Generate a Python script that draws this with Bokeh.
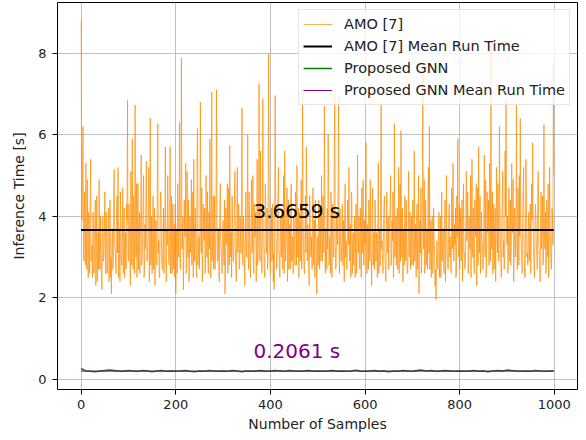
from bokeh.plotting import figure
from bokeh.models import Range1d, FixedTicker, Legend, LegendItem, Label
from bokeh.embed import file_html
from bokeh.resources import INLINE

# ---------------- data ----------------
# AMO [7] inference times, even-numbered samples (0, 2, ..., 998)
amo_even = [
    8.81, 3.9, 6.2, 2.9, 3.6, 5.3, 2.7, 3.2, 4.1, 2.6, 5.4, 3.0, 2.5, 3.8, 2.8, 4.4, 3.1, 2.4, 3.6, 4.9, 2.7, 3.3, 2.2, 4.0, 3.0,
    4.6, 2.6, 3.4, 2.9, 4.2, 3.1, 2.5, 2.1, 3.7, 2.8, 5.15, 3.2, 2.6, 4.5, 5.2, 3.0, 2.4, 3.9, 2.8, 4.7, 3.3, 2.5, 3.6, 4.3, 6.84,
    2.9, 3.8, 2.3, 4.4, 5.9, 2.7, 3.5, 6.73, 3.0, 2.5, 4.8, 3.3, 2.6, 4.1, 2.8, 3.6, 5.0, 2.7, 3.2, 5.35, 2.9, 4.0, 2.4, 6.4, 3.1,
    2.6, 4.5, 3.2, 2.3, 3.9, 2.8, 6.27, 3.4, 2.5, 4.6, 3.0, 2.7, 4.2, 3.5, 5.7, 2.4, 3.3, 4.0, 2.8, 5.7, 3.1, 2.6, 4.3, 3.6, 2.5,
    2.1, 3.7, 4.8, 3.0, 6.3, 2.7, 7.88, 3.2, 2.2, 4.4, 3.5, 2.6, 5.1, 3.0, 2.4, 4.0, 3.3, 2.8, 4.6, 5.4, 2.9, 3.6, 2.5, 6.15, 3.2,
    2.7, 6.8, 3.1, 2.4, 4.3, 3.4, 2.6, 5.0, 3.0, 2.8, 4.1, 5.9, 2.5, 7.04, 3.3, 2.7, 4.5, 3.1, 7.1, 2.9, 3.7, 2.4, 4.8, 3.2, 2.6,
    3.9, 2.8, 2.1, 4.2, 3.3, 2.6, 4.7, 5.73, 3.0, 2.5, 3.8, 2.9, 4.4, 3.2, 2.4, 5.2, 3.5, 2.7, 4.0, 3.1, 6.66, 2.8, 3.6, 2.3, 4.6,
    3.0, 6.0, 2.7, 3.4, 2.5, 4.9, 3.2, 2.8, 4.3, 3.6, 2.4, 5.4, 3.0, 7.25, 2.9, 3.7, 2.6, 6.88, 3.3, 2.5, 4.5, 3.1, 2.7, 7.98, 3.4,
    2.6, 4.2, 3.0, 2.4, 2.2, 6.96, 3.5, 2.8, 4.6, 3.2, 2.5, 4.0, 3.4, 2.7, 5.0, 5.6, 2.9, 3.6, 2.4, 4.4, 3.1, 2.7, 4.8, 3.3, 2.6,
    3.9, 2.8, 4.3, 5.25, 3.0, 2.5, 4.1, 3.4, 2.7, 7.15, 3.2, 2.6, 4.5, 5.7, 2.9, 3.6, 2.3, 4.0, 3.1, 2.7, 4.7, 3.3, 2.5, 3.8, 2.1,
    3.5, 4.4, 2.7, 3.2, 5.0, 2.9, 3.7, 6.7, 2.6, 3.4, 4.2, 6.0, 2.8, 3.1, 4.6, 2.5, 3.8, 3.0, 7.0, 2.7, 4.1, 3.3, 6.95, 2.6, 3.6,
    2.9, 4.3, 3.1, 2.4, 4.8, 3.4, 2.7, 3.9, 5.2, 3.0, 2.5, 4.5, 3.3, 2.8, 4.0, 3.6, 2.6, 5.5, 3.1, 2.9, 4.2, 2.5, 3.7, 4.9, 2.8,
    3.3, 5.8, 2.6, 3.5, 4.4, 2.9, 3.2, 2.3, 4.7, 3.0, 2.7, 4.1, 3.6, 2.5, 5.3, 3.1, 2.8, 6.8, 3.4, 2.6, 4.3, 3.0, 2.4, 4.6, 3.2,
    2.7, 3.9, 5.0, 2.9, 3.4, 2.5, 6.27, 3.1, 2.8, 4.2, 3.5, 2.6, 4.8, 6.1, 3.0, 2.4, 3.7, 4.5, 2.9, 3.3, 2.6, 5.1, 3.2, 2.7, 4.0,
    3.6, 2.8, 5.6, 3.1, 2.5, 4.3, 3.4, 2.1, 3.9, 4.7, 2.9, 7.55, 3.2, 2.6, 4.4, 3.0, 2.7, 5.2, 6.2, 3.3, 2.5, 4.0, 2.8, 3.5, 2.3,
    1.96, 3.4, 2.7, 4.1, 3.0, 2.5, 4.6, 3.2, 2.8, 3.8, 2.4, 5.0, 3.1, 2.7, 4.3, 3.5, 2.6, 3.9, 5.3, 2.9, 3.3, 2.5, 4.5, 5.9, 3.0,
    2.7, 4.2, 3.4, 2.4, 4.8, 3.1, 2.8, 5.1, 3.6, 2.6, 4.0, 3.2, 2.5, 5.4, 3.0, 2.8, 4.4, 3.5, 2.3, 4.7, 5.7, 3.1, 2.6, 4.1, 3.3,
    2.7, 5.5, 3.0, 2.5, 4.6, 3.7, 2.8, 5.0, 8.2, 3.2, 2.6, 4.3, 3.4, 2.4, 5.2, 3.1, 2.9, 6.2, 3.5, 2.5, 4.4, 3.0, 2.7, 5.6, 6.83,
    3.3, 2.6, 4.7, 3.1, 2.8, 5.3, 3.6, 2.4, 4.2, 3.0, 6.73, 2.7, 3.9, 5.0, 6.4, 3.2, 2.6, 4.5, 3.4, 2.5, 5.4, 3.0, 2.8, 4.1, 3.5,
    2.6, 4.8, 5.8, 3.1, 2.5, 4.3, 3.3, 2.7, 5.1, 3.0, 2.4, 4.6, 3.6, 2.8, 6.25, 3.2, 2.6, 4.4, 3.0, 2.5, 5.2, 3.4, 2.7, 4.0, 7.75,
]
# AMO [7] inference times, odd-numbered samples (1, 3, ..., 999)
amo_odd = [
    4.2, 5.0, 3.1, 4.6, 2.8, 3.5, 4.9, 2.5, 3.7, 4.3, 2.9, 3.3, 4.1, 2.6, 3.9, 2.3, 4.5, 3.0, 2.7, 3.4, 4.0, 2.5, 3.8, 2.9, 3.5,
    3.2, 4.1, 2.6, 3.8, 2.4, 4.4, 3.0, 3.5, 2.7, 4.9, 3.3, 2.8, 4.0, 3.1, 2.5, 3.7, 4.6, 2.9, 3.4, 2.6, 4.2, 3.0, 2.7, 3.9, 3.1,
    4.3, 3.0, 5.1, 2.8, 3.6, 4.5, 2.6, 3.9, 4.8, 3.2, 2.7, 4.1, 3.5, 5.5, 3.0, 4.4, 2.5, 3.8, 4.6, 2.9, 3.4, 5.2, 3.1, 2.8, 4.0,
    3.3, 2.7, 4.2, 3.6, 2.9, 4.8, 3.1, 2.5, 3.9, 4.4, 2.8, 3.5, 2.6, 4.1, 3.0, 3.7, 5.0, 2.9, 3.4, 2.6, 4.5, 3.2, 2.7, 3.8, 4.3,
    3.0, 2.6, 4.1, 3.5, 2.8, 4.6, 3.2, 4.0, 2.9, 3.6, 5.3, 2.7, 3.3, 4.4, 2.8, 3.1, 4.9, 3.7, 2.5, 3.4, 4.2, 3.0, 5.6, 2.8, 3.5,
    4.0, 3.3, 4.7, 2.8, 3.6, 4.2, 2.9, 3.5, 4.6, 2.6, 3.2, 4.0, 3.7, 2.9, 4.5, 3.1, 2.7, 3.8, 4.3, 3.0, 2.6, 4.1, 3.4, 2.8, 3.6,
    3.2, 4.4, 2.7, 3.5, 4.8, 3.0, 2.8, 4.1, 3.6, 4.5, 2.9, 3.3, 5.1, 2.6, 3.9, 3.1, 4.3, 2.8, 3.4, 4.7, 3.0, 4.0, 2.7, 3.5, 3.1,
    4.2, 3.0, 4.6, 2.9, 3.7, 3.1, 5.0, 2.6, 3.5, 4.1, 3.2, 2.8, 4.4, 3.6, 5.6, 2.9, 4.0, 3.3, 2.7, 4.8, 3.5, 4.2, 3.0, 5.2, 2.9,
    3.6, 2.9, 4.3, 3.1, 3.9, 4.5, 2.7, 3.4, 5.2, 2.8, 3.7, 3.0, 4.1, 3.5, 2.6, 4.2, 3.3, 4.7, 3.0, 2.7, 3.8, 4.4, 2.9, 3.5, 4.0,
    3.1, 4.6, 2.8, 3.7, 4.2, 3.4, 2.9, 4.9, 3.2, 4.0, 2.7, 3.6, 3.1, 4.3, 3.8, 2.6, 4.5, 3.0, 3.5, 4.1, 2.8, 3.9, 4.4, 3.2, 2.9,
    2.8, 3.6, 4.1, 2.9, 3.4, 4.5, 3.1, 4.0, 3.7, 2.7, 3.2, 4.8, 3.5, 2.6, 3.9, 4.3, 3.0, 5.4, 3.3, 2.8, 3.6, 4.6, 3.1, 4.2, 2.9,
    3.5, 2.8, 3.9, 4.1, 3.0, 2.7, 4.4, 3.3, 2.9, 3.8, 4.6, 2.6, 3.6, 3.2, 2.5, 4.3, 3.0, 3.5, 4.0, 2.7, 3.4, 4.7, 3.1, 2.8, 3.9,
    4.2, 3.0, 3.8, 2.7, 3.5, 4.9, 3.1, 4.0, 2.8, 3.6, 4.4, 2.9, 3.3, 4.1, 2.6, 3.7, 5.0, 3.2, 2.9, 3.8, 4.5, 2.7, 3.4, 3.1, 4.0,
    3.5, 4.3, 2.8, 3.9, 4.6, 3.2, 3.0, 4.0, 3.6, 2.7, 5.2, 3.4, 2.9, 3.7, 4.2, 3.1, 2.8, 3.9, 4.4, 2.6, 3.6, 3.0, 4.1, 3.5, 2.8,
    4.4, 3.2, 2.9, 3.8, 4.0, 2.7, 5.0, 3.4, 3.1, 2.6, 4.3, 3.6, 4.9, 3.0, 2.8, 3.7, 4.5, 3.1, 2.7, 3.9, 3.3, 2.6, 4.2, 3.0, 2.7,
    3.1, 2.8, 3.6, 2.5, 4.0, 3.3, 2.9, 3.7, 2.6, 4.4, 3.1, 3.5, 2.7, 4.1, 3.0, 2.8, 4.7, 3.2, 2.9, 3.8, 4.2, 2.6, 3.5, 3.1, 4.3,
    3.5, 2.9, 4.4, 3.8, 3.1, 2.7, 4.1, 3.4, 4.6, 2.9, 3.3, 5.0, 3.7, 3.0, 4.2, 2.6, 3.6, 4.8, 3.2, 2.8, 3.9, 4.5, 3.0, 3.4, 2.7,
    4.1, 3.3, 4.9, 3.0, 3.6, 4.4, 5.3, 2.9, 3.8, 4.6, 3.1, 2.7, 4.2, 3.5, 3.9, 4.8, 3.0, 4.3, 2.8, 3.6, 5.1, 3.4, 2.9, 4.0, 3.7,
    4.0, 3.5, 2.9, 4.4, 3.2, 3.8, 4.9, 3.0, 3.6, 4.2, 3.3, 4.7, 2.8, 3.5, 4.1, 3.0, 3.9, 5.2, 2.7, 3.4, 4.5, 3.1, 3.7, 2.9, 4.3,
    3.2, 3.9, 4.4, 2.8, 3.6, 4.0, 3.1, 4.7, 3.4, 2.9, 3.8, 3.2, 4.5, 3.0, 3.6, 4.1, 2.7, 3.5, 4.8, 3.1, 3.7, 2.8, 4.2, 3.3, 5.0,
]
amo_samples = list(range(1000))
amo_values = [v for pair in zip(amo_even, amo_odd) for v in pair]

gnn_samples = list(range(0, 1000, 10)) + [999]
gnn_values = [
    0.27, 0.21, 0.20, 0.19, 0.21, 0.22, 0.23, 0.22, 0.21, 0.20,
    0.22, 0.21, 0.20, 0.22, 0.21, 0.19, 0.21, 0.22, 0.20, 0.21,
    0.20, 0.21, 0.22, 0.20, 0.19, 0.21, 0.20, 0.22, 0.21, 0.20,
    0.21, 0.20, 0.22, 0.21, 0.19, 0.21, 0.20, 0.21, 0.22, 0.20,
    0.21, 0.22, 0.21, 0.20, 0.22, 0.21, 0.20, 0.21, 0.22, 0.20,
    0.21, 0.20, 0.21, 0.22, 0.20, 0.21, 0.20, 0.21, 0.23, 0.21,
    0.20, 0.21, 0.22, 0.20, 0.21, 0.19, 0.21, 0.20, 0.22, 0.21,
    0.20, 0.22, 0.23, 0.21, 0.22, 0.20, 0.21, 0.22, 0.21, 0.20,
    0.21, 0.20, 0.21, 0.22, 0.20, 0.21, 0.19, 0.21, 0.22, 0.21,
    0.23, 0.22, 0.21, 0.20, 0.21, 0.20, 0.22, 0.21, 0.20, 0.21,
    0.21,
]

amo_mean = 3.6659
gnn_mean = 0.2061

x_ticks = [0, 200, 400, 600, 800, 1000]
y_ticks = [0, 2, 4, 6, 8]

series_labels = ["AMO [7]", "AMO [7] Mean Run Time", "Proposed GNN", "Proposed GNN Mean Run Time"]
x_label = "Number of Samples"
y_label = "Inference Time [s]"

FONT = "DejaVu Sans"

# ---------------- figure ----------------
p = figure(width=586, height=440, output_backend="svg", toolbar_location=None,
           x_range=Range1d(-49.95, 1048.95), y_range=Range1d(-0.245, 9.24),
           min_border_left=57, min_border_right=9, min_border_top=2, min_border_bottom=51)

p.background_fill_color = "white"
p.border_fill_color = "white"
p.outline_line_color = "black"
p.outline_line_width = 1

p.xgrid.grid_line_color = "#b0b0b0"
p.ygrid.grid_line_color = "#b0b0b0"
p.xgrid.grid_line_alpha = 0.8
p.ygrid.grid_line_alpha = 0.8
p.xgrid.grid_line_width = 1
p.ygrid.grid_line_width = 1

p.xaxis.ticker = FixedTicker(ticks=x_ticks)
p.yaxis.ticker = FixedTicker(ticks=y_ticks)
for ax in (p.xaxis, p.yaxis):
    ax.axis_line_color = None
    ax.major_tick_in = 0
    ax.major_tick_out = 5
    ax.major_tick_line_color = "black"
    ax.minor_tick_line_color = None
    ax.major_label_text_font = FONT
    ax.major_label_text_font_size = "13px"
    ax.major_label_text_color = "#222222"
    ax.axis_label_text_font = FONT
    ax.axis_label_text_font_size = "14px"
    ax.axis_label_text_font_style = "normal"
    ax.axis_label_text_color = "#222222"
p.xaxis.major_label_standoff = 5
p.yaxis.major_label_standoff = 6
p.xaxis.axis_label_standoff = 4
p.yaxis.axis_label_standoff = 8
p.xaxis.axis_label = x_label
p.yaxis.axis_label = y_label

r_amo = p.line(amo_samples, amo_values, line_color="#ff8c00", line_width=0.7)
r_amo_mean = p.line([amo_samples[0], amo_samples[-1]], [amo_mean, amo_mean],
                    line_color="black", line_width=2)
r_gnn = p.line(gnn_samples, gnn_values, line_color="green", line_width=1.5)
r_gnn_mean = p.line([gnn_samples[0], gnn_samples[-1]], [gnn_mean, gnn_mean],
                    line_color="purple", line_width=1)

p.add_layout(Label(x=456, y=amo_mean + 0.47, text=f"{amo_mean:.4f} s", text_align="center",
                   text_baseline="alphabetic", text_font=FONT, text_font_size="20px",
                   text_color="black"))
p.add_layout(Label(x=456, y=gnn_mean + 0.5, text=f"{gnn_mean:.4f} s", text_align="center",
                   text_baseline="alphabetic", text_font=FONT, text_font_size="20px",
                   text_color="purple"))

legend = Legend(items=[LegendItem(label=series_labels[0], renderers=[r_amo]),
                       LegendItem(label=series_labels[1], renderers=[r_amo_mean]),
                       LegendItem(label=series_labels[2], renderers=[r_gnn]),
                       LegendItem(label=series_labels[3], renderers=[r_gnn_mean])],
                location="top_right")
legend.margin = 7
legend.padding = 4
legend.spacing = 2
legend.glyph_width = 29
legend.glyph_height = 20
legend.label_height = 20
legend.label_standoff = 12
legend.label_text_font = FONT
legend.label_text_font_size = "14.5px"
legend.label_text_color = "#222222"
legend.border_line_color = "#cccccc"
legend.border_line_width = 1
legend.background_fill_color = "white"
legend.background_fill_alpha = 0.8
p.add_layout(legend)

open("out.html", "w").write(file_html(p, INLINE))
